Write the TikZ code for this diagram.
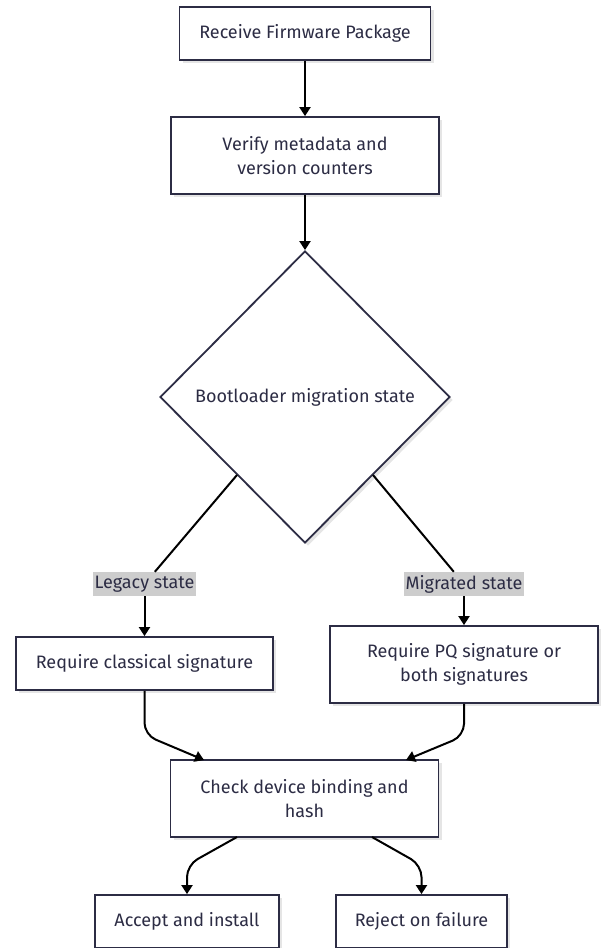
\documentclass[tikz,border=0pt]{standalone}
\usepackage{fontspec}
\setmainfont{Fira Sans}
\usetikzlibrary{shapes.geometric,arrows.meta,shadows}

\definecolor{boxline}{HTML}{2C2C44}
\definecolor{boxtext}{HTML}{2C2C44}
\definecolor{tagfill}{HTML}{CDCDCD}

\tikzset{
  stepbox/.style={rectangle, draw=boxline, line width=1.8pt, fill=white, text=boxtext,
    align=center, inner sep=0pt, font=\fontsize{18}{24}\selectfont,
    drop shadow={shadow xshift=3pt, shadow yshift=-3pt, fill=black, opacity=0.1}},
  choice/.style={diamond, draw=boxline, line width=1.8pt, fill=white, text=boxtext,
    inner sep=0pt, font=\fontsize{18}{24}\selectfont,
    drop shadow={shadow xshift=3pt, shadow yshift=-3pt, fill=black, opacity=0.1}},
  tag/.style={rectangle, fill=tagfill, text=boxtext, inner xsep=2pt, inner ysep=1pt,
    minimum height=24pt, font=\fontsize{18}{24}\selectfont},
  flow/.style={line width=2pt, -{Triangle[length=9pt,width=11pt]}},
  wire/.style={line width=2pt}
}

\begin{document}
\begin{tikzpicture}[x=1pt, y=-1pt]
	\useasboundingbox (0,0) rectangle (602,948);
	% boxes
	\node[stepbox, minimum width=251pt, minimum height=53pt] (recv) at (305,33.5) {Receive Firmware Package};
	\node[stepbox, minimum width=268pt, minimum height=77pt] (verify) at (305,155.5) {Verify metadata and\\version counters};
	\node[choice, minimum width=290pt, minimum height=292pt] (state) at (305,397) {Bootloader migration state};
	\node[tag] (legacy) at (144.5,584) {Legacy state};
	\node[tag] (migrated) at (464,584) {Migrated state};
	\node[stepbox, minimum width=257pt, minimum height=53pt] (classic) at (144.5,663.5) {Require classical signature};
	\node[stepbox, minimum width=268pt, minimum height=77pt] (pq) at (464,664.5) {Require PQ signature or\\both signatures};
	\node[stepbox, minimum width=268pt, minimum height=77pt] (check) at (304.5,798.5) {Check device binding and\\hash};
	\node[stepbox, minimum width=184pt, minimum height=53pt] (accept) at (187,921.5) {Accept and install};
	\node[stepbox, minimum width=171pt, minimum height=53pt] (reject) at (421.5,921.5) {Reject on failure};
	% end points on the edges
	\coordinate (dl) at (237,475);
	\coordinate (dr) at (373,475);
	\coordinate (in1) at (204,760);
	\coordinate (in2) at (406,760);
	\coordinate (out1) at (237,837);
	\coordinate (out2) at (372,837);
	% connectors
	\draw[flow] (recv) -- (verify);
	\draw[flow] (verify) -- (state);
	\draw[wire] (dl) -- (legacy);
	\draw[wire] (dr) -- (migrated);
	\draw[flow] (legacy) -- (classic);
	\draw[flow] (migrated) -- (pq);
	\draw[flow, rounded corners=12pt] (classic.south) -- ++(0,44) -- (in1);
	\draw[flow, rounded corners=12pt] (pq.south) -- ++(0,32) -- (in2);
	\draw[flow, rounded corners=12pt] (out1) -- (187,865) -- (accept.north);
	\draw[flow, rounded corners=12pt] (out2) -- (421.5,865) -- (reject.north);
\end{tikzpicture}
\end{document}
